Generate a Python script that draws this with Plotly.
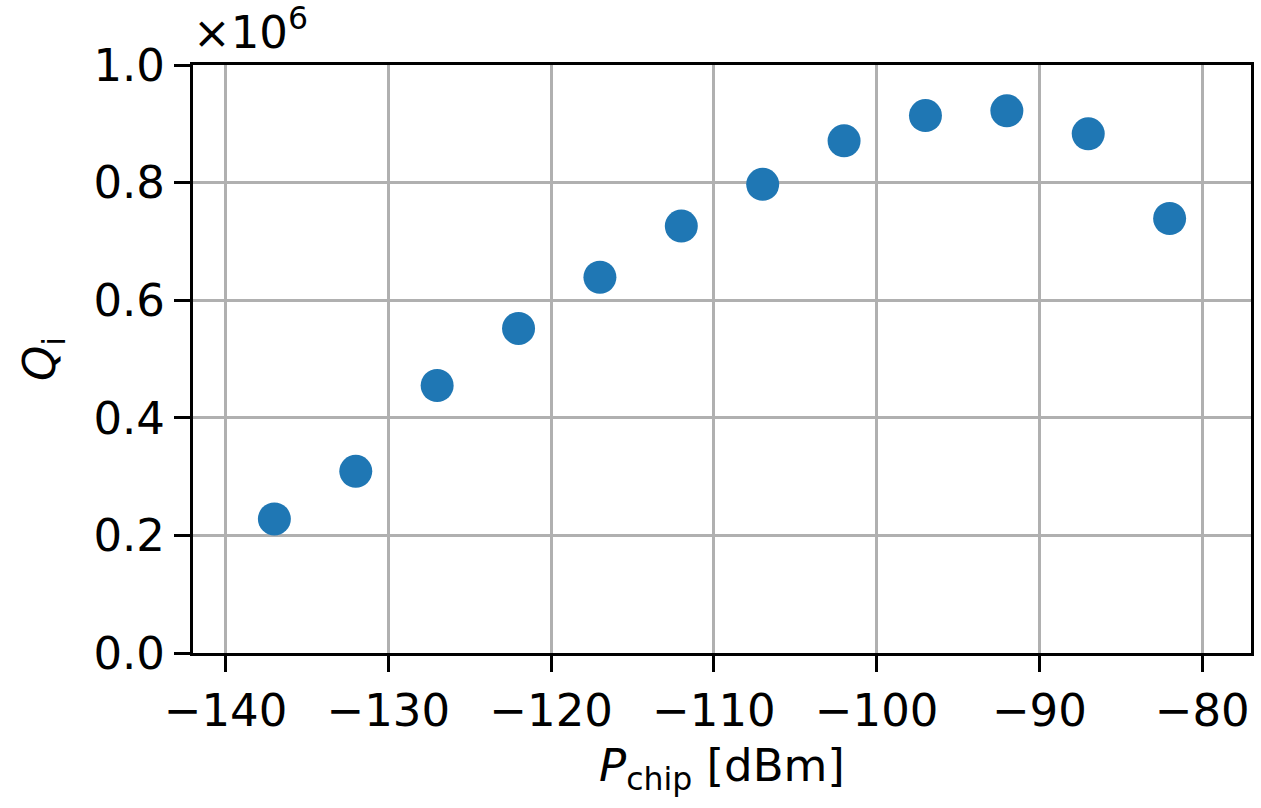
import plotly.graph_objects as go

p_chip = [-137, -132, -127, -122, -117, -112, -107, -102, -97, -92, -87, -82]
q_i = [0.228e6, 0.309e6, 0.455e6, 0.552e6, 0.639e6, 0.726e6, 0.797e6, 0.871e6, 0.914e6, 0.922e6, 0.883e6, 0.739e6]
x_ticks = [-140, -130, -120, -110, -100, -90, -80]
y_ticks = [0.0, 0.2, 0.4, 0.6, 0.8, 1.0]

scale = 1e6
y_scaled = [v / scale for v in q_i]

FONT = "DejaVu Sans"
fs = 45

fig = go.Figure()
fig.add_trace(go.Scatter(
    x=p_chip, y=y_scaled, mode="markers",
    marker=dict(color="#1f77b4", size=33, line=dict(width=0)),
    showlegend=False,
))

axis_common = dict(
    showline=True, linecolor="black", linewidth=3, mirror=True,
    ticks="outside", ticklen=16, tickwidth=3, tickcolor="black",
    showgrid=True, gridcolor="#b0b0b0", gridwidth=3,
    zeroline=False,
    tickfont=dict(family=FONT, size=fs, color="black"),
)

fig.update_xaxes(
    range=[-142, -77], tickvals=x_ticks, ticktext=[f"\u2212{abs(v)}" for v in x_ticks],
    title=dict(text="<i>P</i><sub>chip</sub> [dBm]", font=dict(family=FONT, size=fs, color="black"), standoff=14),
    **axis_common,
)
fig.update_yaxes(
    range=[0, 1.0], tickvals=y_ticks, ticktext=[f"{v:.1f}" for v in y_ticks],
    title=dict(text="<i>Q</i><sub>i</sub>", font=dict(family=FONT, size=fs, color="black"), standoff=24),
    **axis_common,
)

fig.add_annotation(
    x=0, y=1, xref="paper", yref="paper", xanchor="left", yanchor="bottom",
    text="\u00d710<sup>6</sup>", showarrow=False, yshift=4, xshift=-2,
    font=dict(family=FONT, size=fs, color="black"),
)

fig.update_layout(
    width=1261, height=808,
    margin=dict(l=193, r=7, t=65, b=155),
    plot_bgcolor="white", paper_bgcolor="white",
    font=dict(family=FONT, size=fs, color="black"),
)

fig.write_html("out.html")
